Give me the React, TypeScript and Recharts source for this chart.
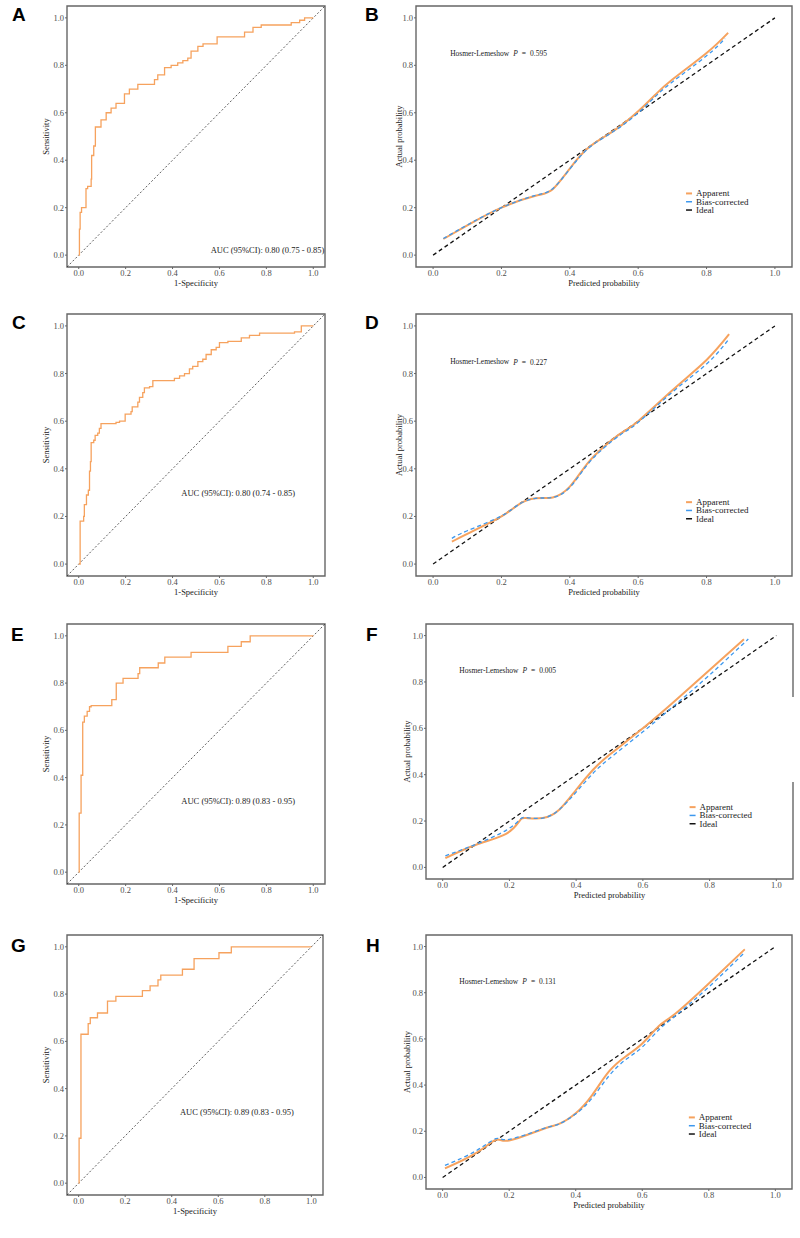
import { LineChart, Line, XAxis, YAxis, ReferenceArea, ReferenceLine, ReferenceDot } from 'recharts';

const SERIF = '"Liberation Serif", "Times New Roman", Times, serif';
const SANS = '"Liberation Sans", Arial, Helvetica, sans-serif';

const ORANGE = '#F6A25E';
const BLUE = '#3D98EE';
const FRAME = '#666666';

// ROC curves: 1-specificity / sensitivity at each step
const rocAFpr = [0, 0.003, 0.006, 0.012, 0.031, 0.038, 0.053, 0.055, 0.064, 0.071, 0.095, 0.117, 0.138, 0.159, 0.195, 0.216, 0.252, 0.323, 0.337, 0.366, 0.394, 0.422, 0.444, 0.465, 0.479, 0.508, 0.53, 0.59, 0.707, 0.743, 0.778, 0.906, 0.942, 0.963, 1.0];
const rocATpr = [0, 0.11, 0.18, 0.2, 0.28, 0.29, 0.32, 0.42, 0.46, 0.54, 0.57, 0.6, 0.62, 0.64, 0.68, 0.7, 0.72, 0.74, 0.76, 0.79, 0.8, 0.81, 0.82, 0.83, 0.86, 0.88, 0.89, 0.92, 0.94, 0.96, 0.97, 0.98, 0.99, 1.0, 1.0];

const rocCFpr = [0, 0.006, 0.021, 0.024, 0.033, 0.041, 0.046, 0.05, 0.053, 0.064, 0.07, 0.081, 0.088, 0.095, 0.159, 0.174, 0.198, 0.223, 0.228, 0.252, 0.259, 0.273, 0.28, 0.302, 0.316, 0.408, 0.43, 0.451, 0.472, 0.486, 0.508, 0.529, 0.543, 0.565, 0.586, 0.6, 0.636, 0.693, 0.728, 0.771, 0.92, 0.949, 1.0];
const rocCTpr = [0, 0.18, 0.2, 0.25, 0.29, 0.31, 0.39, 0.43, 0.51, 0.52, 0.54, 0.55, 0.57, 0.59, 0.595, 0.6, 0.63, 0.64, 0.66, 0.68, 0.7, 0.72, 0.74, 0.745, 0.77, 0.78, 0.79, 0.8, 0.82, 0.83, 0.85, 0.86, 0.88, 0.9, 0.91, 0.93, 0.935, 0.95, 0.96, 0.97, 0.975, 1.0, 1.0];

const rocEFpr = [0, 0.002, 0.01, 0.017, 0.024, 0.036, 0.046, 0.053, 0.141, 0.16, 0.189, 0.253, 0.26, 0.339, 0.367, 0.479, 0.636, 0.693, 0.731, 1.0];
const rocETpr = [0, 0.25, 0.41, 0.635, 0.66, 0.68, 0.7, 0.705, 0.73, 0.8, 0.82, 0.84, 0.865, 0.885, 0.91, 0.93, 0.955, 0.975, 1.0, 1.0];

const rocGFpr = [0, 0.002, 0.01, 0.041, 0.05, 0.081, 0.124, 0.16, 0.274, 0.307, 0.341, 0.353, 0.446, 0.496, 0.603, 0.656, 1.0];
const rocGTpr = [0, 0.19, 0.63, 0.675, 0.7, 0.72, 0.77, 0.79, 0.815, 0.835, 0.86, 0.88, 0.905, 0.95, 0.975, 1.0, 1.0];

// calibration curves: predicted vs actual probability
const calBPred = [0.03, 0.1, 0.2, 0.3, 0.35, 0.4, 0.45, 0.5, 0.55, 0.6, 0.65, 0.7, 0.8, 0.863];
const calBApparent = [0.068, 0.125, 0.2, 0.25, 0.278, 0.365, 0.447, 0.498, 0.546, 0.606, 0.676, 0.74, 0.852, 0.937];
const calBBiasPred = [0.03, 0.1, 0.2, 0.3, 0.35, 0.4, 0.45, 0.5, 0.55, 0.6, 0.65, 0.7, 0.8, 0.854];
const calBBias = [0.07, 0.127, 0.2, 0.252, 0.28, 0.363, 0.445, 0.496, 0.543, 0.6, 0.668, 0.73, 0.84, 0.913];

const calDPred = [0.055, 0.1, 0.2, 0.25, 0.3, 0.35, 0.4, 0.45, 0.5, 0.55, 0.6, 0.7, 0.8, 0.866];
const calDApparent = [0.094, 0.127, 0.2, 0.25, 0.276, 0.28, 0.325, 0.42, 0.493, 0.55, 0.6, 0.73, 0.857, 0.965];
const calDBiasPred = [0.055, 0.1, 0.2, 0.25, 0.3, 0.35, 0.4, 0.45, 0.5, 0.55, 0.6, 0.7, 0.8, 0.863];
const calDBias = [0.108, 0.14, 0.202, 0.25, 0.276, 0.28, 0.322, 0.415, 0.488, 0.545, 0.595, 0.722, 0.84, 0.94];

const calFPred = [0.008, 0.1, 0.19, 0.23, 0.25, 0.3, 0.35, 0.4, 0.45, 0.5, 0.6, 0.7, 0.8, 0.903];
const calFApparent = [0.04, 0.098, 0.145, 0.2, 0.213, 0.213, 0.25, 0.335, 0.42, 0.486, 0.6, 0.723, 0.852, 0.984];
const calFBiasPred = [0.008, 0.1, 0.19, 0.23, 0.25, 0.3, 0.35, 0.4, 0.45, 0.5, 0.6, 0.7, 0.8, 0.916];
const calFBias = [0.05, 0.1, 0.16, 0.205, 0.215, 0.213, 0.25, 0.325, 0.405, 0.47, 0.585, 0.705, 0.83, 0.985];

const calHPred = [0.007, 0.1, 0.16, 0.2, 0.3, 0.35, 0.4, 0.45, 0.5, 0.55, 0.6, 0.65, 0.7, 0.8, 0.908];
const calHApparent = [0.039, 0.105, 0.163, 0.16, 0.209, 0.232, 0.278, 0.358, 0.459, 0.524, 0.58, 0.656, 0.71, 0.84, 0.988];
const calHBias = [0.052, 0.115, 0.168, 0.165, 0.21, 0.232, 0.275, 0.345, 0.44, 0.51, 0.565, 0.64, 0.7, 0.825, 0.975];

const idealLine = [0, 1];
const axisTicks = [0, 0.2, 0.4, 0.6, 0.8, 1];
const legendLabels = ['Apparent', 'Bias-corrected', 'Ideal'];

const toPoints = (xs: number[], ys: number[]) => xs.map((x, i) => ({ x, y: ys[i] }));
const fmt = (v: number) => v.toFixed(1);

const AXIS_W = 40;
const AXIS_H = 24;
const PAD = 4;
const DOMAIN: [number, number] = [-0.05, 1.05];

interface Frame { x: number; y: number; w: number; h: number }

const tickStyle = { fontSize: 8.5, fill: '#4d4d4d', fontFamily: SERIF };

const axes = (xTitle: string, yTitle: string, yTitleX: number) => (
  <>
    <XAxis
      type="number" dataKey="x" domain={DOMAIN} ticks={axisTicks} allowDataOverflow
      tickFormatter={fmt} height={AXIS_H} axisLine={false} tickSize={2} tickMargin={1}
      tickLine={{ stroke: FRAME }} tick={tickStyle}
      label={{
        content: ({ viewBox }: any) => (
          <text x={viewBox.x + viewBox.width / 2} y={viewBox.y + 19} textAnchor="middle"
            fontSize={8.5} fontFamily={SERIF} fill="#1a1a1a">{xTitle}</text>
        ),
      }}
    />
    <YAxis
      type="number" domain={DOMAIN} ticks={axisTicks} allowDataOverflow
      tickFormatter={fmt} width={AXIS_W} axisLine={false} tickSize={2} tickMargin={1}
      tickLine={{ stroke: FRAME }} tick={tickStyle}
      label={{
        content: ({ viewBox }: any) => {
          const cx = viewBox.x + yTitleX;
          const cy = viewBox.y + viewBox.height / 2;
          return (
            <text x={cx} y={cy} transform={`rotate(-90 ${cx} ${cy})`} textAnchor="middle"
              dominantBaseline="central" fontSize={8.5} fontFamily={SERIF} fill="#1a1a1a">{yTitle}</text>
          );
        },
      }}
    />
    <ReferenceArea x1={-0.05} x2={1.05} y1={-0.05} y2={1.05} fill="none" stroke={FRAME}
      strokeWidth={1.4} ifOverflow="visible" />
  </>
);

function RocPanel({ frame, fpr, tpr, auc, at }: {
  frame: Frame; fpr: number[]; tpr: number[]; auc: string; at: [number, number];
}) {
  return (
    <div style={{ position: 'absolute', left: frame.x - AXIS_W, top: frame.y - PAD }}>
      <LineChart width={frame.w + AXIS_W + PAD} height={frame.h + PAD + AXIS_H}
        margin={{ top: PAD, right: PAD, bottom: 0, left: 0 }}>
        {axes('1-Specificity', 'Sensitivity', 19)}
        <ReferenceLine segment={[{ x: -0.05, y: -0.05 }, { x: 1.05, y: 1.05 }]} stroke="#333"
          strokeWidth={0.8} strokeDasharray="2 2" ifOverflow="visible" />
        <Line data={toPoints(fpr, tpr)} dataKey="y" type="stepAfter" stroke={ORANGE}
          strokeWidth={1.3} dot={false} activeDot={false} isAnimationActive={false} />
        <ReferenceDot x={at[0]} y={at[1]} r={0} fill="none" stroke="none"
          label={{
            content: ({ viewBox }: any) => (
              <text x={viewBox.x} y={viewBox.y} textAnchor="middle" dominantBaseline="central"
                fontSize={8.5} fontFamily={SERIF} fill="#1a1a1a">{auc}</text>
            ),
          }} />
      </LineChart>
    </div>
  );
}

function CalPanel({ frame, pred, apparent, biasPred, bias, hl, yTitleX }: {
  frame: Frame; pred: number[]; apparent: number[]; biasPred: number[]; bias: number[];
  hl: string; yTitleX: number;
}) {
  const swatches = [
    { color: ORANGE, width: 2 },
    { color: BLUE, width: 1.5 },
    { color: '#111', width: 1.5 },
  ];
  return (
    <div style={{ position: 'absolute', left: frame.x - AXIS_W, top: frame.y - PAD }}>
      <LineChart width={frame.w + AXIS_W + PAD} height={frame.h + PAD + AXIS_H}
        margin={{ top: PAD, right: PAD, bottom: 0, left: 0 }}>
        {axes('Predicted probability', 'Actual probability', yTitleX)}
        <Line data={toPoints(idealLine, idealLine)} dataKey="y" type="linear" stroke="#111"
          strokeWidth={1.3} strokeDasharray="4 3" dot={false} activeDot={false} isAnimationActive={false} />
        <Line data={toPoints(pred, apparent)} dataKey="y" type="natural" stroke={ORANGE}
          strokeWidth={2} dot={false} activeDot={false} isAnimationActive={false} />
        <Line data={toPoints(biasPred, bias)} dataKey="y" type="natural" stroke={BLUE}
          strokeWidth={1.3} strokeDasharray="4 3" dot={false} activeDot={false} isAnimationActive={false} />
        <ReferenceDot x={0.05} y={0.85} r={0} fill="none" stroke="none"
          label={{
            content: ({ viewBox }: any) => (
              <text x={viewBox.x} y={viewBox.y} dominantBaseline="central" fontSize={7.5}
                fontFamily={SERIF} fill="#1a1a1a">
                Hosmer-Lemeshow
                <tspan dx={4} fontStyle="italic">P</tspan>
                <tspan dx={4}>=</tspan>
                <tspan dx={4}>{hl}</tspan>
              </text>
            ),
          }} />
        <ReferenceDot x={0.74} y={0.26} r={0} fill="none" stroke="none"
          label={{
            content: ({ viewBox }: any) => (
              <g>
                {legendLabels.map((name, i) => {
                  const y = viewBox.y + i * 8.3;
                  return (
                    <g key={name}>
                      <line x1={viewBox.x} x2={viewBox.x + 6} y1={y} y2={y}
                        stroke={swatches[i].color} strokeWidth={swatches[i].width} />
                      <text x={viewBox.x + 10} y={y} dominantBaseline="central" fontSize={9}
                        fontFamily={SERIF} fill="#1a1a1a">{name}</text>
                    </g>
                  );
                })}
              </g>
            ),
          }} />
      </LineChart>
    </div>
  );
}

const panelLetters = [
  { t: 'A', x: 12, y: 21 }, { t: 'B', x: 365, y: 21 },
  { t: 'C', x: 12, y: 329 }, { t: 'D', x: 365, y: 329 },
  { t: 'E', x: 11, y: 641 }, { t: 'F', x: 366, y: 641 },
  { t: 'G', x: 11, y: 952 }, { t: 'H', x: 366, y: 952 },
];

export default function App() {
  return (
    <div style={{ position: 'absolute', left: 0, top: 0, width: 800, height: 1238, background: '#fff' }}>
      <RocPanel frame={{ x: 67, y: 6, w: 258, h: 261 }} fpr={rocAFpr} tpr={rocATpr}
        auc="AUC (95%CI): 0.80 (0.75 - 0.85)" at={[0.805, 0.02]} />
      <CalPanel frame={{ x: 416, y: 6, w: 376, h: 261 }} pred={calBPred} apparent={calBApparent}
        biasPred={calBBiasPred} bias={calBBias} hl="0.595" yTitleX={23} />

      <RocPanel frame={{ x: 67, y: 314, w: 258, h: 262 }} fpr={rocCFpr} tpr={rocCTpr}
        auc="AUC (95%CI): 0.80 (0.74 - 0.85)" at={[0.68, 0.3]} />
      <CalPanel frame={{ x: 416, y: 314, w: 376, h: 262 }} pred={calDPred} apparent={calDApparent}
        biasPred={calDBiasPred} bias={calDBias} hl="0.227" yTitleX={23} />

      <RocPanel frame={{ x: 67, y: 624, w: 258, h: 260 }} fpr={rocEFpr} tpr={rocETpr}
        auc="AUC (95%CI): 0.89 (0.83 - 0.95)" at={[0.68, 0.3]} />
      <CalPanel frame={{ x: 426, y: 624, w: 367, h: 255 }} pred={calFPred} apparent={calFApparent}
        biasPred={calFBiasPred} bias={calFBias} hl="0.005" yTitleX={21} />

      <RocPanel frame={{ x: 67, y: 935, w: 256, h: 260 }} fpr={rocGFpr} tpr={rocGTpr}
        auc="AUC (95%CI): 0.89 (0.83 - 0.95)" at={[0.68, 0.3]} />
      <CalPanel frame={{ x: 426, y: 935, w: 366, h: 254 }} pred={calHPred} apparent={calHApparent}
        biasPred={calHPred} bias={calHBias} hl="0.131" yTitleX={21} />

      <svg width={800} height={1238} style={{ position: 'absolute', left: 0, top: 0, pointerEvents: 'none' }}>
        {panelLetters.map((l) => (
          <text key={l.t} x={l.x} y={l.y} fontSize={19} fontWeight="bold" fontFamily={SANS} fill="#000">{l.t}</text>
        ))}
        {/* gap in the right border of panel F */}
        <rect x={790} y={697} width={6} height={85} fill="#fff" />
      </svg>
    </div>
  );
}
